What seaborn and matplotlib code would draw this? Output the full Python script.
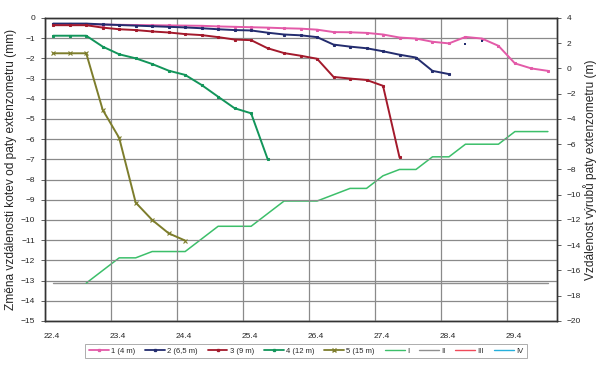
import numpy as np
import pandas as pd
import seaborn as sns
import matplotlib.pyplot as plt
from matplotlib.lines import Line2D
from matplotlib.transforms import ScaledTranslation


# time axis: days since 22.4, readings every 6 hours
t = [0.125, 0.375, 0.625, 0.875, 1.125, 1.375, 1.625, 1.875, 2.125, 2.375,
     2.625, 2.875, 3.125, 3.375, 3.625, 3.875, 4.125, 4.375, 4.625, 4.875,
     5.125, 5.375, 5.625, 5.875, 6.125, 6.375, 6.625, 6.875, 7.125, 7.375,
     7.625]
day_labels = ["22.4", "23.4", "24.4", "25.4", "26.4", "27.4", "28.4", "29.4"]

kotva_1 = [-0.32, -0.32, -0.32, -0.33, -0.34, -0.35, -0.36, -0.37, -0.38, -0.39,
           -0.42, -0.44, -0.46, -0.48, -0.51, -0.53, -0.58, -0.70, -0.71, -0.74,
           -0.82, -0.97, -1.02, -1.18, -1.26, -0.94, -1.02, -1.38, -2.25, -2.50,
           -2.62]
kotva_2 = [-0.28, -0.28, -0.28, -0.32, -0.35, -0.38, -0.41, -0.44, -0.47, -0.51,
           -0.56, -0.60, -0.62, -0.73, -0.82, -0.86, -0.95, -1.32, -1.42, -1.50,
           -1.65, -1.82, -1.96, -2.62, -2.78]
kotva_2_extra_t = [6.375, 6.625]
kotva_2_extra = [-1.30, -1.15]
kotva_3 = [-0.36, -0.36, -0.36, -0.48, -0.56, -0.60, -0.67, -0.72, -0.80, -0.85,
           -0.95, -1.07, -1.10, -1.50, -1.74, -1.87, -2.02, -2.92, -3.00, -3.07,
           -3.36, -6.90]
kotva_4 = [-0.88, -0.88, -0.88, -1.42, -1.80, -2.00, -2.28, -2.61, -2.82, -3.32,
           -3.90, -4.47, -4.72, -6.98]
kotva_5 = [-1.75, -1.75, -1.75, -4.55, -5.94, -9.14, -10.00, -10.66, -11.02]

# vzdalenost vyrubu (m), right axis
vyrub_I = [None, None, -17.0, -16.0, -15.0, -15.0, -14.5, -14.5, -14.5, -13.5,
           -12.5, -12.5, -12.5, -11.5, -10.5, -10.5, -10.5, -10.0, -9.5, -9.5,
           -8.5, -8.0, -8.0, -7.0, -7.0, -6.0, -6.0, -6.0, -5.0, -5.0, -5.0]
vyrub_II = [-17.0] * 31

names = ["1 (4 m)", "2 (6,5 m)", "3 (9 m)", "4 (12 m)", "5 (15 m)", "I", "II", "III", "IV"]
colors = ["#e35aa8", "#232c6e", "#a3192b", "#12955a", "#7d7d2c",
          "#3cbf6a", "#8f8f8f", "#f04a5a", "#26b0dc"]

sns.set_style("white")
plt.rcParams['font.family'] = ['Liberation Sans', 'DejaVu Sans']

fig = plt.figure(figsize=(6, 3.66), dpi=100)
ax = fig.add_axes([0.075, 0.123, 0.853, 0.828])
ax2 = ax.twinx()

grid_c = "#8a8a8a"
ax.set_xlim(0, 7.76)
ax.set_ylim(-15, 0)
ax2.set_ylim(-20, 4)
ax.set_xticks(range(8))
ax.set_xticklabels(day_labels)
ax.set_yticks(range(-15, 1))
ax2.set_yticks(range(-20, 5, 2))
ax.grid(True, color=grid_c, lw=0.9)
ax.set_axisbelow(True)

# right axis series first (drawn under the anchors)
d = pd.DataFrame({"t": t, "I": vyrub_I, "II": vyrub_II}).astype(float)
sns.lineplot(x="t", y="II", data=d, ax=ax2, color=colors[6], lw=1.0)
sns.lineplot(x="t", y="I", data=d.dropna(), ax=ax2, color=colors[5], lw=1.1)

series = [kotva_1, kotva_2, kotva_3, kotva_4, kotva_5]
for i, vals in enumerate(series):
    mk = "x" if i == 4 else "s"
    ms = 3.2 if i == 4 else 1.4
    sns.lineplot(x=t[:len(vals)], y=vals, ax=ax, color=colors[i],
                 lw=1.4, marker=mk, markersize=ms, markeredgecolor=colors[i],
                 markeredgewidth=0.8, zorder=3)
sns.scatterplot(x=kotva_2_extra_t, y=kotva_2_extra, ax=ax, color=colors[1],
                s=3, marker="s", linewidth=0, zorder=3)

ax.set_zorder(ax2.get_zorder() + 1)
ax.patch.set_visible(False)

ax.set_xlabel("")
ax.set_ylabel("Změna vzdálenosti kotev od paty extenzometru (mm)", fontsize=8.6)
ax.yaxis.set_label_coords(-0.055, 0.5)
ax2.set_xlabel("")
ax2.set_ylabel("Vzdálenost výrubů paty extenzometru (m)", fontsize=8.6)
ax2.yaxis.set_label_coords(1.052, 0.5)

for a in (ax, ax2):
    a.tick_params(axis="both", labelsize=6, length=3, width=0.6, color="#444444",
                  direction="out", pad=4)
    for s in a.spines.values():
        s.set_color("#333333")
        s.set_linewidth(1.0)
ax.tick_params(axis="x", pad=6)
shift = ScaledTranslation(7 / 100, 0, fig.dpi_scale_trans)
for lab in ax.get_xticklabels():
    lab.set_transform(lab.get_transform() + shift)

handles = []
for i, n in enumerate(names):
    if i < 4:
        h = Line2D([], [], color=colors[i], lw=1.3, marker="s", markersize=1.4)
    elif i == 4:
        h = Line2D([], [], color=colors[i], lw=1.3, marker="x", markersize=3)
    else:
        h = Line2D([], [], color=colors[i], lw=1.0)
    handles.append(h)
leg = fig.legend(handles, names, loc="center", bbox_to_anchor=(0.51, 0.041), ncol=9,
                 fontsize=5.5, frameon=True, fancybox=False, handlelength=2.6,
                 columnspacing=1.3, handletextpad=0.3, borderpad=0.5)
leg.get_frame().set_edgecolor("#888888")
leg.get_frame().set_linewidth(0.6)

fig.savefig("out.png", dpi=100)
